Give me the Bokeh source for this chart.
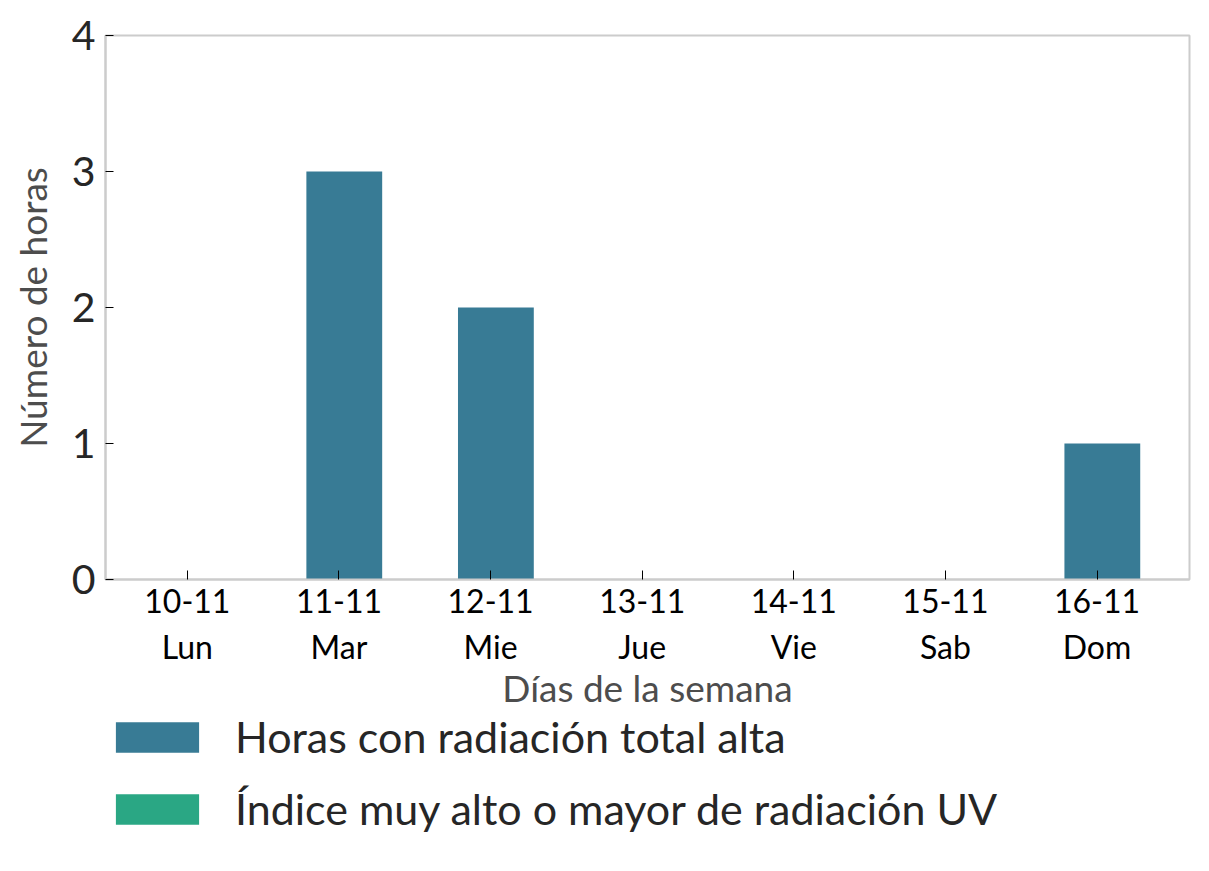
from bokeh.plotting import figure
from bokeh.layouts import column
from bokeh.models import (ColumnDataSource, Range1d, FixedTicker, Legend, LegendItem)
from bokeh.transform import dodge
from bokeh.embed import file_html
from bokeh.resources import INLINE

dates = ["10-11", "11-11", "12-11", "13-11", "14-11", "15-11", "16-11"]
days = ["Lun", "Mar", "Mie", "Jue", "Vie", "Sab", "Dom"]
total_alta = [0, 3, 2, 0, 0, 0, 1]
uv_muy_alto = [0, 0, 0, 0, 0, 0, 0]
y_ticks = [0, 1, 2, 3, 4]
series_names = ["Horas con radiación total alta",
                "Índice muy alto o mayor de radiación UV"]
series_colors = ["#387b95", "#2aa784"]

idx = list(range(len(dates)))
src = ColumnDataSource(dict(idx=idx, total=total_alta, uv=uv_muy_alto))

FONT = "Lato"
p = figure(output_backend="svg", toolbar_location=None,
           frame_width=1084, frame_height=544,
           min_border_left=105, min_border_top=35, min_border_right=12,
           min_border_bottom=125,
           x_range=Range1d(-0.54, 6.61), y_range=Range1d(0, 4))
p.xgrid.visible = False
p.ygrid.visible = False
p.outline_line_color = "#cccccc"
p.outline_line_width = 2
p.background_fill_color = "white"
p.border_fill_color = "white"

p.vbar(x=dodge("idx", 0.035, range=p.x_range), top="total", width=0.5,
       source=src, fill_color=series_colors[0], line_color=None)
p.vbar(x=dodge("idx", 0.035, range=p.x_range), top="uv", width=0.5,
       source=src, fill_color=series_colors[1], line_color=None)

xa = p.xaxis[0]
xa.ticker = FixedTicker(ticks=idx)
xa.major_label_overrides = {i: f"{d}\n{w}" for i, (d, w) in enumerate(zip(dates, days))}
xa.minor_tick_line_color = None
xa.major_tick_in = 9
xa.major_tick_out = 0
xa.major_tick_line_color = "black"
xa.major_tick_line_width = 1
xa.axis_line_color = "#cccccc"
xa.axis_line_width = 2
xa.major_label_text_font = FONT
xa.major_label_text_font_size = "32px"
xa.major_label_text_color = "black"
xa.major_label_standoff = 1
xa.axis_label = "Días de la semana"
xa.axis_label_text_font = FONT
xa.axis_label_text_font_style = "normal"
xa.axis_label_text_font_size = "37px"
xa.axis_label_text_color = "#4d4d4d"
xa.axis_label_standoff = -4

ya = p.yaxis[0]
ya.ticker = FixedTicker(ticks=y_ticks)
ya.minor_tick_line_color = None
ya.major_tick_in = 8
ya.major_tick_out = 0
ya.major_tick_line_color = "black"
ya.major_tick_line_width = 1
ya.axis_line_color = "#cccccc"
ya.axis_line_width = 2
ya.major_label_text_font = FONT
ya.major_label_text_font_size = "41px"
ya.major_label_text_color = "#262626"
ya.major_label_standoff = 10
ya.axis_label = "Número de horas"
ya.axis_label_text_font = FONT
ya.axis_label_text_font_style = "normal"
ya.axis_label_text_font_size = "37px"
ya.axis_label_text_color = "#4d4d4d"
ya.axis_label_standoff = 14

# legend panel below the chart (its frame is aligned with the chart's frame)
p2 = figure(output_backend="svg", toolbar_location=None,
            width=1201, height=150, min_border=0,
            x_axis_type=None, y_axis_type=None,
            x_range=Range1d(100, 101), y_range=Range1d(100, 101))
p2.grid.visible = False
p2.outline_line_color = None
p2.background_fill_color = "white"
p2.border_fill_color = "white"
# same data, entirely outside this panel's ranges: used only as legend swatches
lr = [p2.vbar(x="idx", top=col, width=0.5, source=src,
              fill_color=c, line_color=None)
      for col, c in zip(["total", "uv"], series_colors)]

legend = Legend(items=[LegendItem(label=n, renderers=[r])
                       for n, r in zip(series_names, lr)])
legend.location = (0, 29)
legend.orientation = "vertical"
legend.label_text_font = FONT
legend.label_text_font_size = "43px"
legend.label_text_color = "#262626"
legend.glyph_width = 104
legend.glyph_height = 38
legend.label_standoff = 26
legend.spacing = 21
legend.padding = 0
legend.margin = 0
legend.border_line_alpha = 0
legend.background_fill_alpha = 0
p2.add_layout(legend, "center")

layout = column(p, p2, spacing=0)
open("out.html", "w").write(file_html(layout, INLINE))
